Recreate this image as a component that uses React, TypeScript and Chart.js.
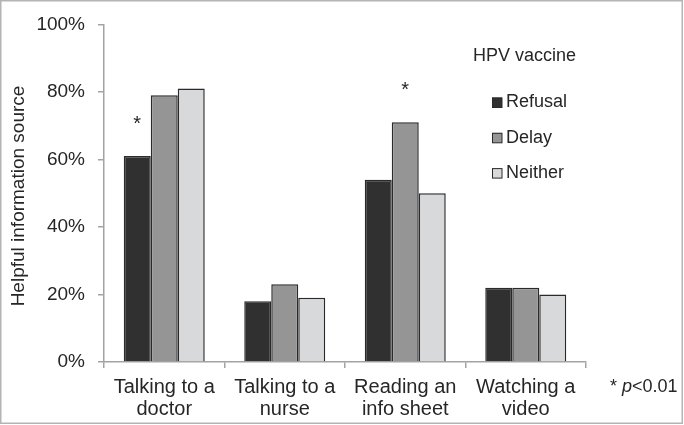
import React, { useEffect, useRef } from 'react';
import { Chart, registerables } from 'chart.js';

Chart.register(...registerables);

const categories: string[][] = [
  ['Talking to a', 'doctor'],
  ['Talking to a', 'nurse'],
  ['Reading an', 'info sheet'],
  ['Watching a', 'video'],
];
const seriesNames = ['Refusal', 'Delay', 'Neither'];
const refusal = [61, 18, 54, 22];
const delay = [79, 23, 71, 22];
const neither = [81, 19, 50, 20];
const seriesColors = ['#303030', '#959595', '#d8d9db'];
const yMin = 0;
const yMax = 100;
const yStep = 20;
const significant = [
  { category: 0, series: 0 },
  { category: 2, series: 1 },
];
const legendTitle = 'HPV vaccine';
const yTitle = 'Helpful information source';
const footnoteParts = ['* ', 'p', '<0.01'];

const FONT = '"Liberation Sans", Arial, sans-serif';
const TEXT = '#262626';
const AXIS = '#a3a3a3';

const overlay = {
  id: 'overlay',
  afterDraw(chart: any) {
    const ctx = chart.ctx as CanvasRenderingContext2D;
    ctx.save();
    // frame
    ctx.strokeStyle = '#b4b4b4';
    ctx.lineWidth = 1.5;
    ctx.strokeRect(0.75, 0.75, 681.5, 422.5);

    ctx.fillStyle = TEXT;
    // y title
    ctx.save();
    ctx.translate(19, 196);
    ctx.rotate(-Math.PI / 2);
    ctx.font = `19px ${FONT}`;
    ctx.textAlign = 'center';
    ctx.textBaseline = 'middle';
    ctx.fillText(yTitle, 0, 0);
    ctx.restore();

    // legend
    ctx.font = `18px ${FONT}`;
    ctx.textAlign = 'left';
    ctx.textBaseline = 'middle';
    ctx.fillText(legendTitle, 473, 56);
    chart.data.datasets.forEach((ds: any, i: number) => {
      const cy = 102.5 + i * 35.3;
      ctx.fillStyle = ds.backgroundColor;
      ctx.fillRect(492, cy - 5, 10, 10);
      ctx.strokeStyle = '#2a2a2a';
      ctx.lineWidth = 1;
      ctx.strokeRect(492.5, cy - 4.5, 9.5, 9.5);
      ctx.fillStyle = TEXT;
      ctx.fillText(ds.label, 506, cy);
    });

    // significance asterisks
    ctx.font = `20px ${FONT}`;
    ctx.textAlign = 'center';
    ctx.textBaseline = 'alphabetic';
    significant.forEach((s) => {
      const el = chart.getDatasetMeta(s.series).data[s.category];
      ctx.fillText('*', el.x, el.y - 26);
    });

    // footnote
    ctx.textAlign = 'left';
    let fx = 610;
    const fy = 392;
    footnoteParts.forEach((part, i) => {
      ctx.font = i === 1 ? `italic 18px ${FONT}` : `18px ${FONT}`;
      ctx.fillText(part, fx, fy);
      fx += ctx.measureText(part).width;
    });
    ctx.restore();
  },
};

export default function App() {
  const ref = useRef<HTMLCanvasElement>(null);
  useEffect(() => {
    document.body.style.margin = '0';
    const canvas = ref.current!;
    const chart = new Chart(canvas, {
      type: 'bar',
      data: {
        labels: categories,
        datasets: [refusal, delay, neither].map((d, i) => ({
          label: seriesNames[i],
          data: d,
          backgroundColor: seriesColors[i],
          borderColor: '#2a2a2a',
          borderWidth: 1.5,
          categoryPercentage: 0.672,
          barPercentage: 1.0,
        })),
      },
      options: {
        responsive: false,
        animation: false,
        devicePixelRatio: 1,
        layout: { padding: { left: 0, top: 15, right: 98, bottom: 0 } },
        plugins: {
          legend: { display: false },
          tooltip: { enabled: false },
          title: { display: false },
        },
        scales: {
          x: {
            afterFit: (s: any) => {
              s.height = 63;
            },
            border: { color: AXIS, width: 1.5 },
            grid: {
              display: true,
              offset: true,
              drawOnChartArea: false,
              drawTicks: true,
              tickLength: 6,
              color: AXIS,
              lineWidth: 1.5,
            },
            ticks: {
              color: TEXT,
              font: { family: FONT, size: 20, lineHeight: 1.1 },
              padding: 8,
              maxRotation: 0,
              autoSkip: false,
            },
          },
          y: {
            min: yMin,
            max: yMax,
            afterFit: (s: any) => {
              s.width = 104;
            },
            border: { color: AXIS, width: 1.5 },
            grid: {
              display: true,
              drawOnChartArea: false,
              drawTicks: true,
              tickLength: 6,
              color: AXIS,
              lineWidth: 1.5,
            },
            ticks: {
              stepSize: yStep,
              color: TEXT,
              font: { family: FONT, size: 19 },
              padding: 13,
              callback: (v: any) => `${v}%`,
            },
          },
        },
      },
      plugins: [overlay],
    });
    return () => chart.destroy();
  }, []);
  return (
    <div style={{ width: 684, height: 425 }}>
      <canvas ref={ref} width={684} height={425} />
    </div>
  );
}
